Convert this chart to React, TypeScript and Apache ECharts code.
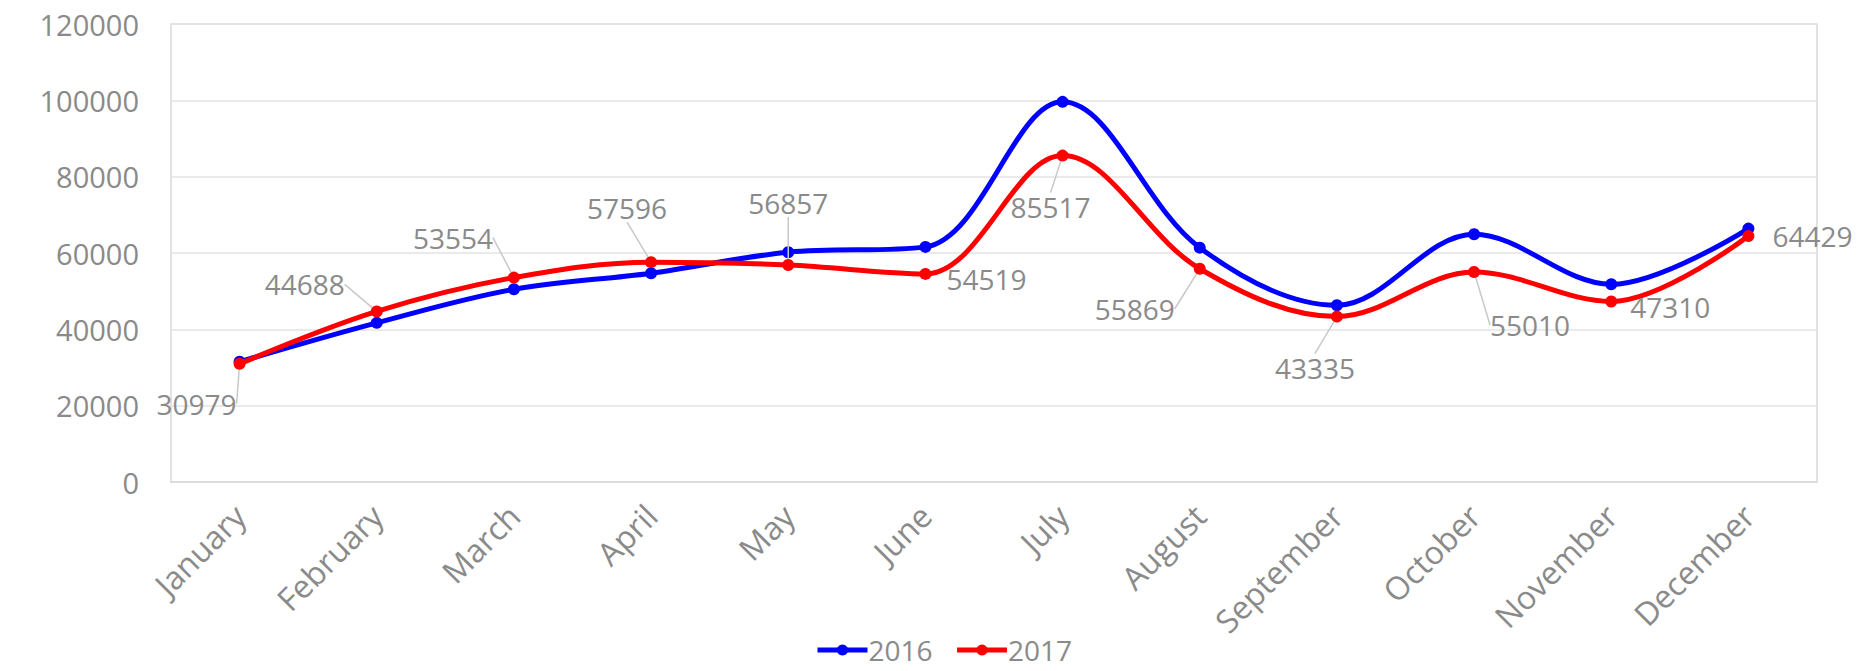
import React, { useEffect, useRef } from "react";
import * as echarts from "echarts";

const months = [
  "January", "February", "March", "April", "May", "June",
  "July", "August", "September", "October", "November", "December",
];
const values2016 = [31500, 41700, 50500, 54700, 60200, 61600, 99600, 61400, 46300, 64900, 51800, 66400];
const values2017 = [30979, 44688, 53554, 57596, 56857, 54519, 85517, 55869, 43335, 55010, 47310, 64429];
const yTicks = { min: 0, max: 120000, interval: 20000 };

// label offsets (px) of 2017 data labels relative to their point
const labelDx = [-43, -72, -61, -24, 0, 61, -12, -65, -22, 56, 59, 64];
const labelDy = [40, -27, -40, -54, -62, 5, 51, 40, 51, 53, 6, 0];
const leaderShown = [true, true, true, true, true, false, true, true, true, true, false, false];

const FONT = "'Open Sans', sans-serif";
const GRAY = "#8a8a8a";

export default function App() {
  const ref = useRef<HTMLDivElement>(null);
  useEffect(() => {
    if (!ref.current) return;
    const chart = echarts.init(ref.current, null, { renderer: "svg" });
    chart.setOption({
      animation: false,
      backgroundColor: "#ffffff",
      textStyle: { fontFamily: FONT },
      grid: {
        left: 171, right: 41, top: 24, bottom: 189,
        show: true, borderColor: "#d9d9d9", borderWidth: 1.5,
      },
      legend: {
        bottom: 2, left: 810,
        itemWidth: 50, itemHeight: 14, itemGap: 22,
        lineStyle: { width: 5 },
        textStyle: { color: GRAY, fontSize: 28, fontFamily: FONT, padding: [0, 0, 0, -4] },
        data: ["2016", "2017"],
      },
      xAxis: {
        type: "category",
        data: months,
        boundaryGap: true,
        axisTick: { show: false },
        axisLine: { lineStyle: { color: "#d9d9d9", width: 1.5 } },
        axisLabel: { rotate: 45, color: GRAY, fontSize: 32, margin: 28, fontFamily: FONT },
      },
      yAxis: {
        type: "value",
        min: yTicks.min, max: yTicks.max, interval: yTicks.interval,
        axisLine: { show: false },
        axisTick: { show: false },
        splitLine: { lineStyle: { color: "#e3e3e3", width: 1.5 } },
        axisLabel: {
          color: GRAY, fontSize: 29, margin: 32, fontFamily: FONT,
          formatter: (v: number) => String(v),
        },
      },
      series: [
        {
          name: "2016",
          type: "line",
          data: values2016,
          smooth: 0.35,
          color: "#0000ff",
          lineStyle: { width: 5, color: "#0000ff" },
          symbol: "circle",
          symbolSize: 12,
          itemStyle: { color: "#0000ff" },
          z: 2,
        },
        {
          name: "2017",
          type: "line",
          data: values2017.map((v, i) => ({
            value: v,
            labelLine: { show: leaderShown[i] },
          })),
          smooth: 0.35,
          color: "#ff0000",
          lineStyle: { width: 5, color: "#ff0000" },
          symbol: "circle",
          symbolSize: 12,
          itemStyle: { color: "#ff0000" },
          z: 3,
          label: {
            show: true,
            position: "inside",
            color: GRAY,
            fontSize: 28,
            fontFamily: FONT,
          },
          labelLine: {
            show: true,
            lineStyle: { color: "#c8c8c8", width: 1.5 },
          },
          labelLayout: (params: any) => ({
            dx: labelDx[params.dataIndex],
            dy: labelDy[params.dataIndex],
          }),
        },
      ],
    });
    return () => chart.dispose();
  }, []);
  return (
    <div
      ref={ref}
      style={{ position: "fixed", left: 0, top: 0, width: "1858px", height: "671px" }}
    />
  );
}
